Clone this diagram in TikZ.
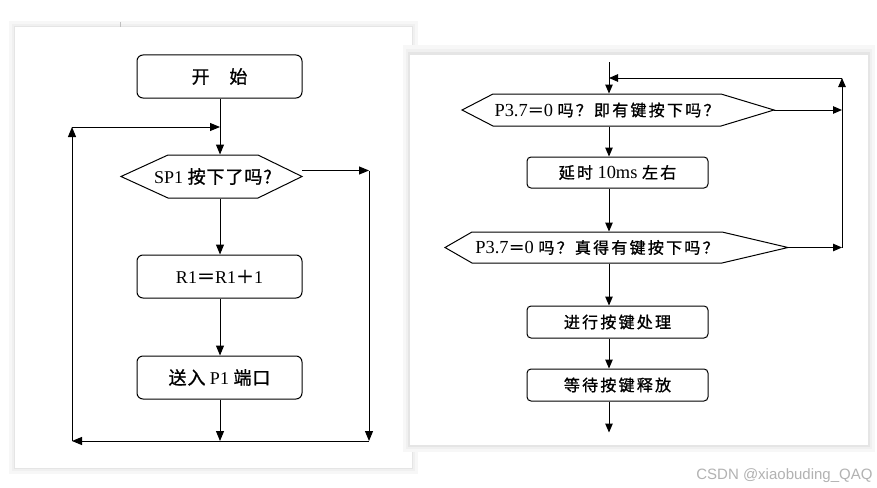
\documentclass[tikz,border=0pt]{standalone}
\usepackage{fontspec}
\setmainfont{Liberation Serif}
\newfontfamily\cjkA[LetterSpace=5,FakeBold=1]{Noto Sans CJK SC}
\newfontfamily\cjkB[LetterSpace=14,FakeBold=1]{Noto Sans CJK SC}
\newfontfamily\latB[Scale=1.15]{Liberation Serif}
\newfontfamily\wmfont{Liberation Sans}
\usetikzlibrary{arrows.meta,calc}
\newcommand\hexdraw[5]{%
  \draw ([shift={(-#2,-#3)}]#1.center) -- ([shift={(#2,-#3)}]#1.center)
    -- ([shift={(#2+#5,0)}]#1.center) coordinate (#1R)
    -- ([shift={(#2,#3)}]#1.center) -- ([shift={(-#2,#3)}]#1.center)
    -- ([shift={(-#2-#4,0)}]#1.center) coordinate (#1L) -- cycle;}
\begin{document}
\begin{tikzpicture}[x=1pt,y=-1pt,line width=1pt,
  arr/.style={-{Triangle[length=10pt,width=8pt]}},
  rarr/.style={-{Triangle[length=9pt,width=7.5pt]}},
  lbox/.style={draw,rounded corners=6pt,minimum width=165pt,minimum height=43pt,inner sep=0pt,font=\fontsize{18}{18}\selectfont},
  rbox/.style={draw,rounded corners=4pt,minimum width=181pt,inner sep=0pt,font=\fontsize{16}{16}\selectfont\latB},
  lhex/.style={inner sep=0pt,minimum height=43pt,font=\fontsize{18}{18}\selectfont},
  rhex/.style={inner sep=0pt,font=\fontsize{16}{16}\selectfont\latB},
]
\useasboundingbox (0,0) rectangle (877,487);
\fill[white] (0,0) rectangle (877,487);
% left panel
\fill[black!3] (9,21) rectangle (418,474);
\fill[black!6] (12,24) rectangle (415,471);
\fill[black!10] (14,26) rectangle (413,469);
\fill[white] (15,27) rectangle (412,468);
\draw[black!25,line width=0.6pt] (120,22) -- (120,27);
% right panel
\fill[black!3] (403,45) rectangle (875,452);
\fill[black!6] (406,49) rectangle (872,449);
\fill[black!10] (408,52) rectangle (870,447);
\fill[white] (410,55) rectangle (868,445);

% ---------- left chart ----------
\coordinate (LA) at (220,0);
\node[lbox] (s) at (219.5,76.5) {{\cjkA 开\hspace{1.1em}始}};
\node[lhex,minimum width=90pt] (h1) at (213,176.5) {SP1 {\cjkA 按下了吗?}};
\hexdraw{h1}{45}{21.5}{47}{44}
\node[lbox] (r1) at (219.5,276.5) {R1{\cjkA ＝}R1{\cjkA ＋}1};
\node[lbox] (p1) at (219.5,377.5) {{\cjkA 送入} P1 {\cjkA 端口}};
\coordinate (ltl) at (72,127);
\coordinate (lmerge) at (220,127);
\coordinate (lbl) at (72,441);
\coordinate (lbm) at (220,441);
\draw[arr] (s.south -| LA) -- (h1.north -| LA);
\draw[arr] (h1.south -| LA) -- (r1.north -| LA);
\draw[arr] (r1.south -| LA) -- (p1.north -| LA);
\draw[arr] (p1.south -| LA) -- (lbm);
\draw[arr] ([yshift=6pt]h1R) -- ++(67,0) coordinate (ltr);
\draw[arr] (ltr) -- (ltr |- lbm);
\draw[arr] (ltr |- lbm) -- (lbl);
\draw[arr] (lbl) -- (ltl);
\draw[arr] (ltl) -- (lmerge);

% ---------- right chart ----------
\coordinate (RA) at (609,0);
\coordinate (rtop) at (609,62);
\coordinate (rc) at (842,78);
\node[rhex,minimum width=228pt,minimum height=32pt] (h2) at (607,110) {P3.7{\cjkB ＝}0 {\cjkB 吗？即有键按下吗？}};
\hexdraw{h2}{114}{16}{31}{53}
\node[rbox,minimum height=31pt] (b1) at (617.5,172.5) {{\cjkB 延时} 10ms {\cjkB 左右}};
\node[rhex,minimum width=250pt,minimum height=31pt] (h3) at (597,247.5) {P3.7{\cjkB ＝}0 {\cjkB 吗？真得有键按下吗？}};
\hexdraw{h3}{125}{15.5}{27}{66}
\node[rbox,minimum height=32pt] (b2) at (617.5,322) {{\cjkB 进行按键处理}};
\node[rbox,minimum height=32pt] (b3) at (617.5,385) {{\cjkB 等待按键释放}};
\draw[rarr] (rtop) -- (h2.north -| RA);
\draw[rarr] (h2.south -| RA) -- (b1.north -| RA);
\draw[rarr] (b1.south -| RA) -- (h3.north -| RA);
\draw[rarr] (h3.south -| RA) -- (b2.north -| RA);
\draw[rarr] (b2.south -| RA) -- (b3.north -| RA);
\draw[rarr] (b3.south -| RA) -- ++(0,31) coordinate (rend);
\draw[rarr] (h2R) -- (h2R -| rc);
\draw[rarr] (h3R) -- (h3R -| rc);
\draw[rarr] (h3R -| rc) -- (rc);
\draw[rarr] (rc) -- (RA |- rc);

% watermark
\node[anchor=base east,inner sep=0pt,text=black!30,font=\fontsize{15}{15}\selectfont\wmfont] (wm) at (873,479) {CSDN @xiaobuding\_QAQ};
\end{tikzpicture}
\end{document}
